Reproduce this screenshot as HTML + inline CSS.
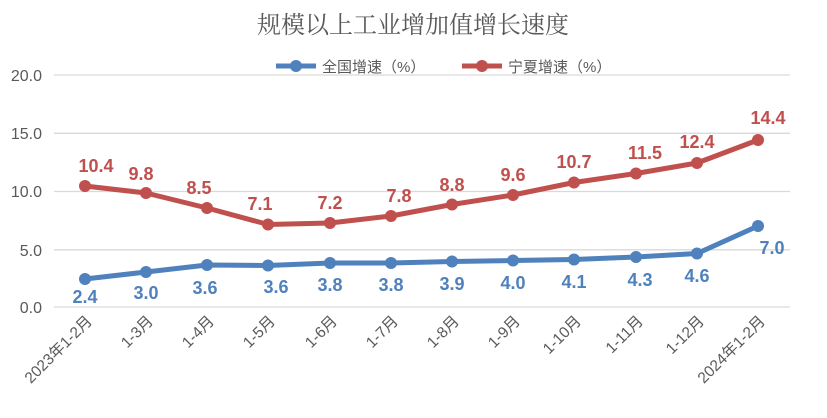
<!DOCTYPE html>
<html><head><meta charset="utf-8"><style>
body{margin:0;background:#fff;}
svg{display:block;font-family:"Liberation Sans","Noto Sans CJK SC",sans-serif;}
</style></head><body>
<svg width="827" height="418" viewBox="0 0 827 418" xmlns="http://www.w3.org/2000/svg">
<text x="413" y="33" text-anchor="middle" font-size="24" fill="#595959" font-family="'Noto Serif CJK SC','Noto Sans CJK SC',serif">规模以上工业增加值增长速度</text>
<g stroke="#d9d9d9" stroke-width="1.3">
<line x1="54" y1="75" x2="790" y2="75"/><line x1="54" y1="133.3" x2="790" y2="133.3"/>
<line x1="54" y1="191.5" x2="790" y2="191.5"/><line x1="54" y1="249.8" x2="790" y2="249.8"/>
<line x1="54" y1="307" x2="790" y2="307"/></g>
<g font-size="16" fill="#595959" text-anchor="end">
<text x="42" y="81">20.0</text><text x="42" y="139">15.0</text><text x="42" y="197">10.0</text><text x="42" y="256">5.0</text><text x="42" y="313">0.0</text></g>
<g>
<line x1="276" y1="66" x2="316" y2="66" stroke="#4f81bd" stroke-width="5"/><circle cx="296" cy="66" r="6" fill="#4f81bd"/>
<text x="322" y="72" font-size="15" fill="#595959">全国增速（%）</text>
<line x1="462" y1="66" x2="502" y2="66" stroke="#c0504d" stroke-width="5"/><circle cx="482" cy="66" r="6" fill="#c0504d"/>
<text x="508" y="72" font-size="15" fill="#595959">宁夏增速（%）</text>
</g>
<polyline fill="none" stroke="#c0504d" stroke-width="5" stroke-linejoin="round" points="85,186 146,193 207,208 268,224.5 330,223 391,216 452,204.5 513,195 574,182.5 636,173.5 697,163 758,140"/>
<g fill="#c0504d"><circle cx="85" cy="186" r="6"/><circle cx="146" cy="193" r="6"/><circle cx="207" cy="208" r="6"/><circle cx="268" cy="224.5" r="6"/><circle cx="330" cy="223" r="6"/><circle cx="391" cy="216" r="6"/><circle cx="452" cy="204.5" r="6"/><circle cx="513" cy="195" r="6"/><circle cx="574" cy="182.5" r="6"/><circle cx="636" cy="173.5" r="6"/><circle cx="697" cy="163" r="6"/><circle cx="758" cy="140" r="6"/></g>
<polyline fill="none" stroke="#4f81bd" stroke-width="5" stroke-linejoin="round" points="85,279 146,272 207,265 268,265.5 330,263 391,263 452,261.5 513,260.5 574,259.5 636,257 697,253.5 758,226"/>
<g fill="#4f81bd"><circle cx="85" cy="279" r="6"/><circle cx="146" cy="272" r="6"/><circle cx="207" cy="265" r="6"/><circle cx="268" cy="265.5" r="6"/><circle cx="330" cy="263" r="6"/><circle cx="391" cy="263" r="6"/><circle cx="452" cy="261.5" r="6"/><circle cx="513" cy="260.5" r="6"/><circle cx="574" cy="259.5" r="6"/><circle cx="636" cy="257" r="6"/><circle cx="697" cy="253.5" r="6"/><circle cx="758" cy="226" r="6"/></g>
<g font-size="18" font-weight="bold" fill="#c0504d" text-anchor="middle">
<text x="96" y="172">10.4</text><text x="141" y="180">9.8</text><text x="199" y="194">8.5</text><text x="260" y="210">7.1</text><text x="330" y="209">7.2</text><text x="399" y="202">7.8</text><text x="452" y="191">8.8</text><text x="513" y="181">9.6</text><text x="574" y="168">10.7</text><text x="645" y="159">11.5</text><text x="697" y="148">12.4</text><text x="768" y="124">14.4</text></g>
<g font-size="18" font-weight="bold" fill="#4f81bd" text-anchor="middle">
<text x="85" y="303">2.4</text><text x="146" y="299">3.0</text><text x="205" y="294">3.6</text><text x="276" y="293">3.6</text><text x="330" y="291">3.8</text><text x="391" y="291">3.8</text><text x="452" y="290">3.9</text><text x="513" y="289">4.0</text><text x="574" y="288">4.1</text><text x="640" y="286">4.3</text><text x="697" y="282">4.6</text><text x="772" y="254">7.0</text></g>
<g font-size="15.5" fill="#595959" text-anchor="end">
<text transform="translate(93,322) rotate(-45)">2023年1-2月</text>
<text transform="translate(154,322) rotate(-45)">1-3月</text>
<text transform="translate(215,322) rotate(-45)">1-4月</text>
<text transform="translate(276,322) rotate(-45)">1-5月</text>
<text transform="translate(338,322) rotate(-45)">1-6月</text>
<text transform="translate(399,322) rotate(-45)">1-7月</text>
<text transform="translate(460,322) rotate(-45)">1-8月</text>
<text transform="translate(521,322) rotate(-45)">1-9月</text>
<text transform="translate(582,322) rotate(-45)">1-10月</text>
<text transform="translate(644,322) rotate(-45)">1-11月</text>
<text transform="translate(705,322) rotate(-45)">1-12月</text>
<text transform="translate(766,322) rotate(-45)">2024年1-2月</text>
</g>
</svg>
</body></html>
